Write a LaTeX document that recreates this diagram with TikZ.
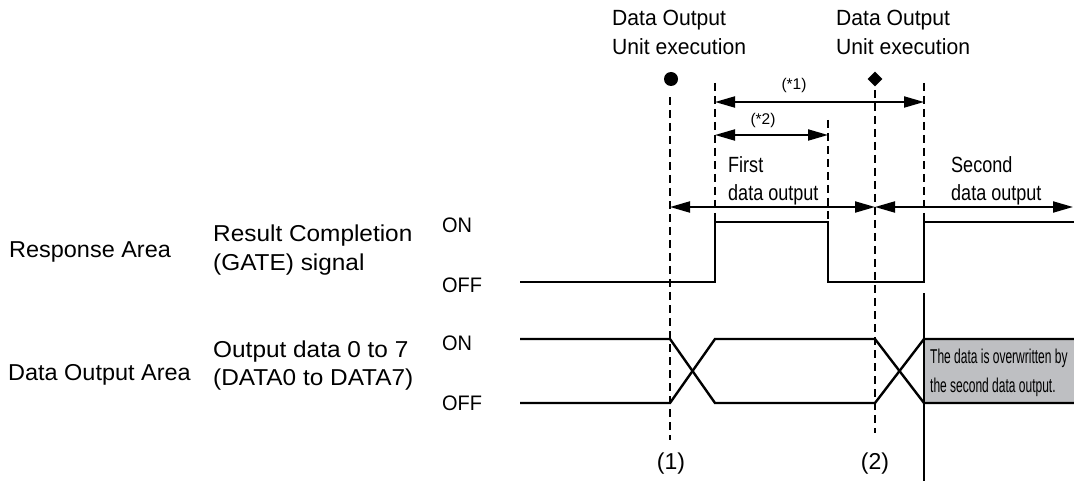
\documentclass[tikz,border=0pt]{standalone}
\usepackage{fontspec}
\setmainfont{Liberation Sans}
\newfontfamily\fTop{Liberation Sans}[FakeStretch=0.96]
\newfontfamily\fLeft{Liberation Sans}[FakeStretch=1.02]
\newfontfamily\fMid{Liberation Sans}[FakeStretch=1.06]
\newfontfamily\fOn{Liberation Sans}[FakeStretch=0.95]
\newfontfamily\fFirst{Liberation Sans}[FakeStretch=0.82]
\newfontfamily\fNote{Liberation Sans}[FakeStretch=0.6]
\usetikzlibrary{arrows.meta,shapes.geometric}
\definecolor{boxgray}{RGB}{190,191,194}
\begin{document}
\begin{tikzpicture}[x=1pt,y=-1pt,
  sig/.style={line width=2.4pt, line join=miter},
  dsh/.style={line width=2.4pt, dash pattern=on 8pt off 5pt},
  dim/.style={line width=2pt, {Triangle[length=20pt,width=11pt]}-{Triangle[length=20pt,width=11pt]}},
  toplbl/.style={inner sep=0pt, anchor=base west, font=\fTop\fontsize{22}{26}\selectfont},
  leftlbl/.style={inner sep=0pt, anchor=base west, font=\fLeft\fontsize{23}{26}\selectfont},
  midlbl/.style={inner sep=0pt, anchor=base west, font=\fMid\fontsize{23}{26}\selectfont},
  onoff/.style={inner sep=0pt, anchor=base west, font=\fOn\fontsize{21}{24}\selectfont},
  outlbl/.style={inner sep=0pt, anchor=base west, font=\fFirst\fontsize{22}{26}\selectfont},
  small/.style={inner sep=0pt, font=\fontsize{15.5}{18}\selectfont},
  num/.style={inner sep=0pt, font=\fontsize{23}{26}\selectfont},
  note/.style={inner sep=0pt, anchor=base west, font=\fNote\fontsize{20}{22}\selectfont},
]
\useasboundingbox (0,0) rectangle (1074,481);

% gray overwritten box
\fill[boxgray] (924,339) rectangle (1074,403);

% coordinates
\coordinate (d1t) at (670,97);   \coordinate (d1b) at (670,440);
\coordinate (d2t) at (715,83);   \coordinate (d2b) at (715,222);
\coordinate (d3t) at (828,120);  \coordinate (d3b) at (828,222);
\coordinate (d4t) at (875,90);   \coordinate (d4b) at (875,433);
\coordinate (d5t) at (924,83);   \coordinate (d5b) at (924,222);
\coordinate (s5t) at (924,293);  \coordinate (s5b) at (924,481);

% dashed guides
\draw[dsh] (d1t) -- (d1b);
\draw[dsh] (d2t) -- (d2b);
\draw[dsh] (d3t) -- (d3b);
\draw[dsh] (d4t) -- (d4b);
\draw[dsh] (d5t) -- (d5b);
\draw[sig] (s5t) -- (s5b);

% markers
\fill (671,79) circle (7);
\node[diamond, fill=black, inner sep=0pt, minimum size=15pt] (dia) at (875,79) {};

% gate signal
\draw[sig] (520,282) -- (715,282) -- (715,222) -- (828,222) -- (828,282) -- (924,282) -- (924,222) -- (1074,222);

% data signals
\draw[sig] (520,339) -- (670,339) -- (715,403) -- (875,403) -- (924,339) -- (1074,339);
\draw[sig] (520,403) -- (670,403) -- (715,339) -- (875,339) -- (924,403) -- (1074,403);

% dimension arrows
\coordinate (a1l) at (715,102); \coordinate (a1r) at (924,102);
\coordinate (a2l) at (715,135); \coordinate (a2r) at (828,135);
\coordinate (a3l) at (670,207); \coordinate (a3m) at (875,207); \coordinate (a3r) at (1073,207);
\draw[dim] (a1l) -- (a1r);
\draw[dim] (a2l) -- (a2r);
\draw[dim] (a3l) -- (a3m);
\draw[dim] (a3m) -- (a3r);

\node[small] (s1) at (794,85) {(*1)};
\node[small] (s2) at (763,120) {(*2)};

% top labels
\node[toplbl] (t1a) at (612,26) {Data Output};
\node[toplbl] (t1b) at (612,55) {Unit execution};
\node[toplbl] (t2a) at (836,26) {Data Output};
\node[toplbl] (t2b) at (836,55) {Unit execution};

\node[outlbl] (f1) at (728,173) {First};
\node[outlbl] (f2) at (728,201) {data output};
\node[outlbl] (g1) at (951,173) {Second};
\node[outlbl] (g2) at (951,201) {data output};

% left labels
\node[leftlbl] (ra) at (9,258) {Response Area};
\node[midlbl] (rc1) at (213,242) {Result Completion};
\node[midlbl] (rc2) at (213,270) {(GATE) signal};
\node[onoff] (on1) at (442,233) {ON};
\node[onoff] (off1) at (442,293) {OFF};

\node[leftlbl] (da) at (8,380) {Data Output Area};
\node[midlbl] (od1) at (213,357) {Output data 0 to 7};
\node[midlbl] (od2) at (213,385) {(DATA0 to DATA7)};
\node[onoff] (on2) at (442,350) {ON};
\node[onoff] (off2) at (442,410) {OFF};

% note in box
\node[note] (n1) at (930,363) {The data is overwritten by};
\node[note] (n2) at (930,392) {the second data output.};

% bottom labels
\node[num] (p1) at (671,464) {(1)};
\node[num] (p2) at (875,464) {(2)};
\end{tikzpicture}
\end{document}
